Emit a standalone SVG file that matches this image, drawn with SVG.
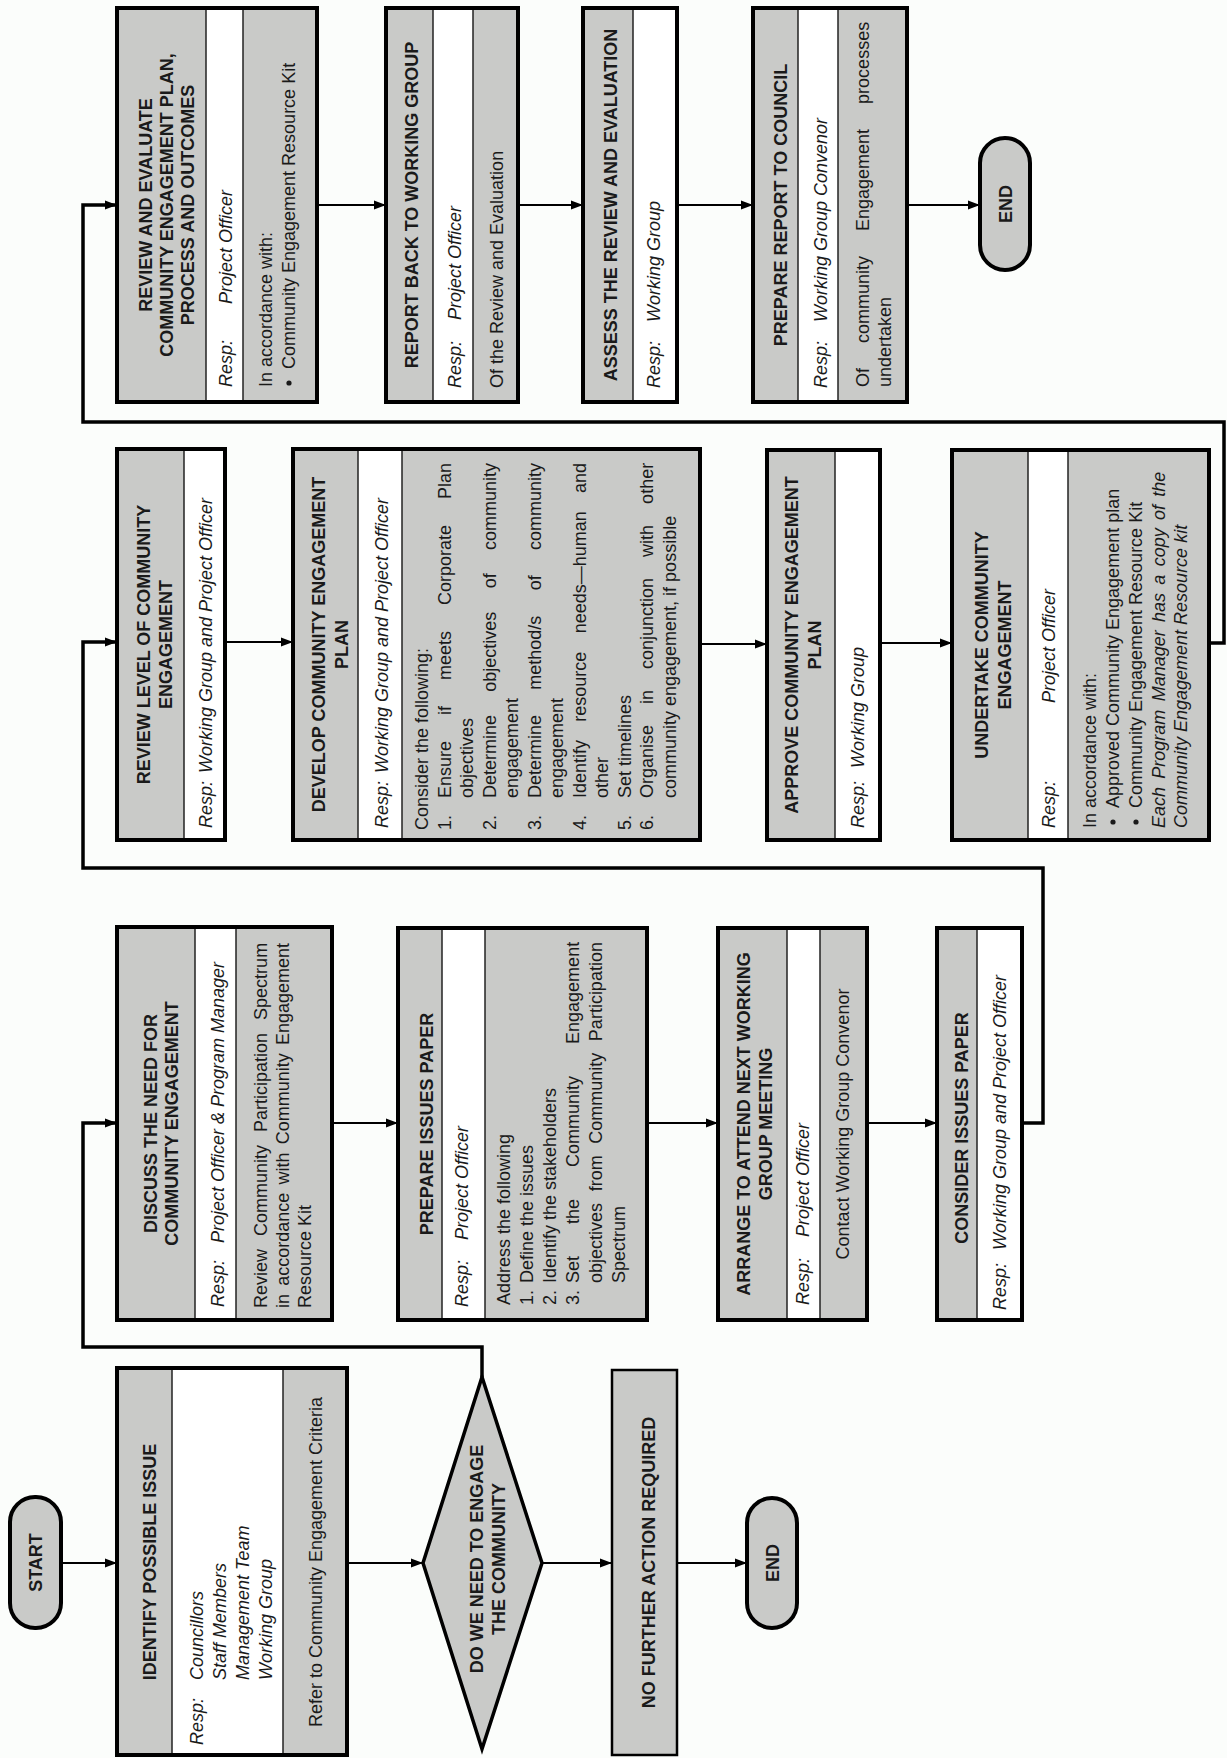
<svg xmlns="http://www.w3.org/2000/svg" width="1227" height="1758" viewBox="0 0 1227 1758">
<defs>
<style>
.t{font-family:"Liberation Sans",Arial,Helvetica,sans-serif;font-size:18px;fill:#1a1a1a}
.h{font-weight:bold;text-anchor:middle}
.i{font-style:italic}
.c{text-anchor:middle}
.g{fill:#c9cac8}
.w{fill:#ffffff}
.o{fill:none;stroke:#000;stroke-width:4}
.d{stroke:#222;stroke-width:1.5}
.a{fill:none;stroke:#000;stroke-width:2;marker-end:url(#ah)}
.L{fill:none;stroke:#000;stroke-width:3.5;marker-end:url(#ah)}
.term{fill:#c9cac8;stroke:#000;stroke-width:4}
.bl{fill:#1a1a1a}
</style>
<marker id="ah" markerUnits="userSpaceOnUse" markerWidth="13" markerHeight="10" refX="12" refY="5" orient="auto"><path d="M0,0.5 L12,5 L0,9.5 z" fill="#000"/></marker>
</defs>
<rect x="0" y="0" width="1227" height="1758" fill="#fbfdfb"/>
<g transform="matrix(0,-1,1,0,0,1758)">
<g id="connectors">
<path class="a" d="M195,61 L195,117"/>
<path class="a" d="M195,347 L195,423"/>
<path class="a" d="M195,542 L195,612"/>
<path class="a" d="M195,677 L195,747"/>
<path class="L" d="M381,482 L411,482 L411,83 L635,83 L635,117"/>
<path class="a" d="M635,332 L635,398"/>
<path class="a" d="M635,647 L635,718"/>
<path class="a" d="M635,867 L635,937"/>
<path class="L" d="M635,1022 L635,1043 L890,1043 L890,83 L1116,83 L1116,117"/>
<path class="a" d="M1116,225 L1116,293"/>
<path class="a" d="M1114,700 L1114,767"/>
<path class="a" d="M1115,880 L1115,952"/>
<path class="L" d="M1115,1209 L1115,1224 L1336,1224 L1336,83 L1553,83 L1553,117"/>
<path class="a" d="M1553,317 L1553,386"/>
<path class="a" d="M1553,518 L1553,583"/>
<path class="a" d="M1553,677 L1553,753"/>
<path class="a" d="M1553,907 L1553,980"/>
</g>

<g id="start">
<rect class="term" x="130" y="10" width="131" height="51" rx="25"/>
<text class="t h" x="195.5" y="42">START</text>
</g>

<g id="identify">
<rect class="g" x="3" y="117" width="387" height="230"/>
<rect class="w" x="3" y="172" width="387" height="111"/>
<line class="d" x1="3" y1="172" x2="390" y2="172"/>
<line class="d" x1="3" y1="283" x2="390" y2="283"/>
<rect class="o" x="3" y="117" width="387" height="230"/>
<text class="t h" x="196" y="156">IDENTIFY POSSIBLE ISSUE</text>
<text class="t i" x="13" y="203">Resp:</text>
<text class="t i" x="78" y="203">Councillors</text>
<text class="t i" x="78" y="226">Staff Members</text>
<text class="t i" x="78" y="249">Management Team</text>
<text class="t i" x="78" y="272">Working Group</text>
<text class="t c" x="196" y="322">Refer to Community Engagement Criteria</text>
</g>

<g id="decision">
<polygon class="g" points="9,482 195,423 381,482 195,542" stroke="#000" stroke-width="3.5"/>
<text class="t h" x="199" y="483">DO WE NEED TO ENGAGE</text>
<text class="t h" x="199" y="505">THE COMMUNITY</text>
</g>

<g id="no-action">
<rect class="g" x="3" y="612" width="385" height="65" stroke="#000" stroke-width="2.5"/>
<text class="t h" x="195.5" y="655">NO FURTHER ACTION REQUIRED</text>
</g>

<g id="end1">
<rect class="term" x="130" y="747" width="130" height="50" rx="25"/>
<text class="t h" x="195" y="779">END</text>
</g>

<g id="discuss">
<rect class="g" x="438" y="117" width="393" height="215"/>
<rect class="w" x="438" y="195" width="393" height="41"/>
<line class="d" x1="438" y1="195" x2="831" y2="195"/>
<line class="d" x1="438" y1="236" x2="831" y2="236"/>
<rect class="o" x="438" y="117" width="393" height="215"/>
<text class="t h" x="634.5" y="157">DISCUSS THE NEED FOR</text>
<text class="t h" x="634.5" y="178">COMMUNITY ENGAGEMENT</text>
<text class="t i" x="451" y="224">Resp:</text>
<text class="t i" x="515" y="224">Project Officer &amp; Program Manager</text>
<text class="t" x="450" y="267" word-spacing="8">Review Community Participation Spectrum</text>
<text class="t" x="450" y="289" word-spacing="3.2">in accordance with Community Engagement</text>
<text class="t" x="450" y="311">Resource Kit</text>
</g>

<g id="prepare-issues">
<rect class="g" x="438" y="398" width="392" height="249"/>
<rect class="w" x="438" y="442" width="392" height="43"/>
<line class="d" x1="438" y1="442" x2="830" y2="442"/>
<line class="d" x1="438" y1="485" x2="830" y2="485"/>
<rect class="o" x="438" y="398" width="392" height="249"/>
<text class="t h" x="634" y="433">PREPARE ISSUES PAPER</text>
<text class="t i" x="451" y="468">Resp:</text>
<text class="t i" x="518" y="468">Project Officer</text>
<text class="t" x="453" y="510">Address the following</text>
<text class="t" x="453" y="533">1.</text>
<text class="t" x="475" y="533">Define the issues</text>
<text class="t" x="453" y="556">2.</text>
<text class="t" x="475" y="556">Identify the stakeholders</text>
<text class="t" x="453" y="579">3.</text>
<text class="t" x="475" y="579" word-spacing="27">Set the Community Engagement</text>
<text class="t" x="475" y="602" word-spacing="6.6">objectives from Community Participation</text>
<text class="t" x="475" y="625">Spectrum</text>
</g>

<g id="arrange">
<rect class="g" x="438" y="718" width="392" height="149"/>
<rect class="w" x="438" y="787" width="392" height="33"/>
<line class="d" x1="438" y1="787" x2="830" y2="787"/>
<line class="d" x1="438" y1="820" x2="830" y2="820"/>
<rect class="o" x="438" y="718" width="392" height="149"/>
<text class="t h" x="634" y="750">ARRANGE TO ATTEND NEXT WORKING</text>
<text class="t h" x="634" y="772">GROUP MEETING</text>
<text class="t i" x="453" y="809">Resp:</text>
<text class="t i" x="521" y="809">Project Officer</text>
<text class="t c" x="634" y="849">Contact Working Group Convenor</text>
</g>

<g id="consider">
<rect class="g" x="438" y="937" width="392" height="85"/>
<rect class="w" x="438" y="977" width="392" height="45"/>
<line class="d" x1="438" y1="977" x2="830" y2="977"/>
<rect class="o" x="438" y="937" width="392" height="85"/>
<text class="t h" x="630" y="968">CONSIDER ISSUES PAPER</text>
<text class="t i" x="448" y="1006">Resp:</text>
<text class="t i" x="508" y="1006">Working Group and Project Officer</text>
</g>

<g id="review-level">
<rect class="g" x="918" y="117" width="391" height="108"/>
<rect class="w" x="918" y="184" width="391" height="41"/>
<line class="d" x1="918" y1="184" x2="1309" y2="184"/>
<rect class="o" x="918" y="117" width="391" height="108"/>
<text class="t h" x="1113.5" y="150">REVIEW LEVEL OF COMMUNITY</text>
<text class="t h" x="1113.5" y="172">ENGAGEMENT</text>
<text class="t i" x="930" y="212">Resp:</text>
<text class="t i" x="985" y="212">Working Group and Project Officer</text>
</g>

<g id="develop">
<rect class="g" x="918" y="293" width="391" height="407"/>
<rect class="w" x="918" y="358" width="391" height="44"/>
<line class="d" x1="918" y1="358" x2="1309" y2="358"/>
<line class="d" x1="918" y1="402" x2="1309" y2="402"/>
<rect class="o" x="918" y="293" width="391" height="407"/>
<text class="t h" x="1113.5" y="325">DEVELOP COMMUNITY ENGAGEMENT</text>
<text class="t h" x="1113.5" y="348">PLAN</text>
<text class="t i" x="930" y="388">Resp:</text>
<text class="t i" x="985" y="388">Working Group and Project Officer</text>
<text class="t" x="928" y="428">Consider the following:</text>
<text class="t" x="928" y="450.5">1.</text>
<text class="t" x="960" y="450.5" word-spacing="21">Ensure if meets Corporate Plan</text>
<text class="t" x="960" y="473">objectives</text>
<text class="t" x="928" y="495.5">2.</text>
<text class="t" x="960" y="495.5" word-spacing="18.3">Determine objectives of community</text>
<text class="t" x="960" y="518">engagement</text>
<text class="t" x="928" y="540.5">3.</text>
<text class="t" x="960" y="540.5" word-spacing="20.3">Determine method/s of community</text>
<text class="t" x="960" y="563">engagement</text>
<text class="t" x="928" y="585.5">4.</text>
<text class="t" x="960" y="585.5" word-spacing="13.3">Identify resource needs—human and</text>
<text class="t" x="960" y="608">other</text>
<text class="t" x="928" y="630.5">5.</text>
<text class="t" x="960" y="630.5">Set timelines</text>
<text class="t" x="928" y="653">6.</text>
<text class="t" x="960" y="653" word-spacing="16">Organise in conjunction with other</text>
<text class="t" x="960" y="675.5">community engagement, if possible</text>
</g>

<g id="approve">
<rect class="g" x="918" y="767" width="390" height="113"/>
<rect class="w" x="918" y="835" width="390" height="45"/>
<line class="d" x1="918" y1="835" x2="1308" y2="835"/>
<rect class="o" x="918" y="767" width="390" height="113"/>
<text class="t h" x="1113" y="798">APPROVE COMMUNITY ENGAGEMENT</text>
<text class="t h" x="1113" y="821">PLAN</text>
<text class="t i" x="930" y="864">Resp:</text>
<text class="t i" x="990" y="864">Working Group</text>
</g>

<g id="undertake">
<rect class="g" x="918" y="952" width="390" height="257"/>
<rect class="w" x="918" y="1028" width="390" height="40"/>
<line class="d" x1="918" y1="1028" x2="1308" y2="1028"/>
<line class="d" x1="918" y1="1068" x2="1308" y2="1068"/>
<rect class="o" x="918" y="952" width="390" height="257"/>
<text class="t h" x="1113" y="988">UNDERTAKE COMMUNITY</text>
<text class="t h" x="1113" y="1011">ENGAGEMENT</text>
<text class="t i" x="930" y="1055">Resp:</text>
<text class="t i" x="1055" y="1055">Project Officer</text>
<text class="t" x="930" y="1096">In accordance with:</text>
<circle class="bl" cx="936" cy="1113" r="2.6"/>
<text class="t" x="950" y="1119">Approved Community Engagement plan</text>
<circle class="bl" cx="936" cy="1136" r="2.6"/>
<text class="t" x="950" y="1142">Community Engagement Resource Kit</text>
<text class="t i" x="930" y="1165" word-spacing="3.3">Each Program Manager has a copy of the</text>
<text class="t i" x="930" y="1187">Community Engagement Resource kit</text>
</g>

<g id="review-evaluate">
<rect class="g" x="1356" y="117" width="394" height="200"/>
<rect class="w" x="1356" y="206" width="394" height="37"/>
<line class="d" x1="1356" y1="206" x2="1750" y2="206"/>
<line class="d" x1="1356" y1="243" x2="1750" y2="243"/>
<rect class="o" x="1356" y="117" width="394" height="200"/>
<text class="t h" x="1553" y="152">REVIEW AND EVALUATE</text>
<text class="t h" x="1553" y="173">COMMUNITY ENGAGEMENT PLAN,</text>
<text class="t h" x="1553" y="194">PROCESS AND OUTCOMES</text>
<text class="t i" x="1371" y="232">Resp:</text>
<text class="t i" x="1454" y="232">Project Officer</text>
<text class="t" x="1371" y="272">In accordance with:</text>
<circle class="bl" cx="1375" cy="289" r="2.6"/>
<text class="t" x="1389" y="295">Community Engagement Resource Kit</text>
</g>

<g id="report-back">
<rect class="g" x="1356" y="386" width="394" height="132"/>
<rect class="w" x="1356" y="433" width="394" height="40"/>
<line class="d" x1="1356" y1="433" x2="1750" y2="433"/>
<line class="d" x1="1356" y1="473" x2="1750" y2="473"/>
<rect class="o" x="1356" y="386" width="394" height="132"/>
<text class="t h" x="1553" y="418">REPORT BACK TO WORKING GROUP</text>
<text class="t i" x="1370" y="461">Resp:</text>
<text class="t i" x="1438" y="461">Project Officer</text>
<text class="t" x="1370" y="503">Of the Review and Evaluation</text>
</g>

<g id="assess">
<rect class="g" x="1356" y="583" width="394" height="94"/>
<rect class="w" x="1356" y="633" width="394" height="44"/>
<line class="d" x1="1356" y1="633" x2="1750" y2="633"/>
<rect class="o" x="1356" y="583" width="394" height="94"/>
<text class="t h" x="1553" y="617">ASSESS THE REVIEW AND EVALUATION</text>
<text class="t i" x="1370" y="660">Resp:</text>
<text class="t i" x="1436" y="660">Working Group</text>
</g>

<g id="report-council">
<rect class="g" x="1356" y="753" width="394" height="154"/>
<rect class="w" x="1356" y="798" width="394" height="40"/>
<line class="d" x1="1356" y1="798" x2="1750" y2="798"/>
<line class="d" x1="1356" y1="838" x2="1750" y2="838"/>
<rect class="o" x="1356" y="753" width="394" height="154"/>
<text class="t h" x="1553" y="787">PREPARE REPORT TO COUNCIL</text>
<text class="t i" x="1370" y="827">Resp:</text>
<text class="t i" x="1436" y="827">Working Group Convenor</text>
<text class="t" x="1371" y="869" word-spacing="20">Of community Engagement processes</text>
<text class="t" x="1371" y="891">undertaken</text>
</g>

<g id="end2">
<rect class="term" x="1488" y="980" width="132" height="50" rx="25"/>
<text class="t h" x="1554" y="1012">END</text>
</g>
</g>
</svg>
